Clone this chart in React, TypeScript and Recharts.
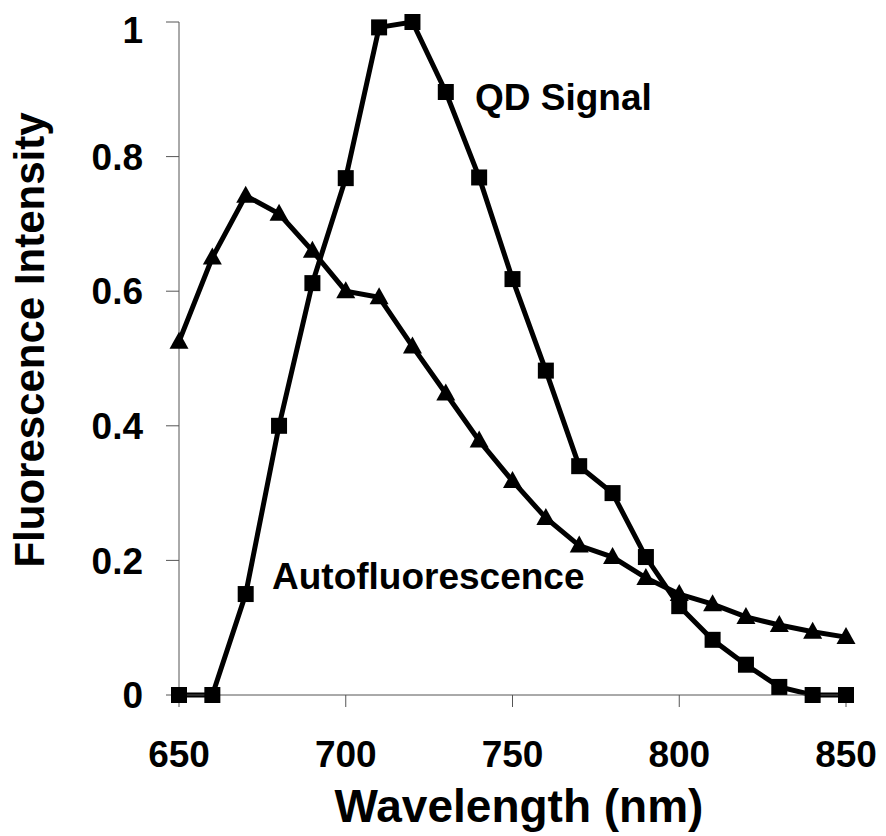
import React from 'react';
import { LineChart, Line, XAxis, YAxis } from 'recharts';

const wavelengths = [650, 660, 670, 680, 690, 700, 710, 720, 730, 740, 750, 760, 770, 780, 790, 800, 810, 820, 830, 840, 850];
const qdSignal = [0, 0, 0.15, 0.4, 0.612, 0.768, 0.992, 1.0, 0.896, 0.769, 0.618, 0.482, 0.34, 0.3, 0.205, 0.132, 0.082, 0.045, 0.012, 0, 0];
const autofluorescence = [0.525, 0.65, 0.742, 0.715, 0.66, 0.6, 0.591, 0.518, 0.448, 0.378, 0.318, 0.263, 0.222, 0.205, 0.174, 0.15, 0.135, 0.116, 0.104, 0.094, 0.086];
const xTicks = [650, 700, 750, 800, 850];
const yTicks = [0, 0.2, 0.4, 0.6, 0.8, 1];

const data = wavelengths.map((w, i) => ({ w, qd: qdSignal[i], auto: autofluorescence[i] }));

const FONT = '"Liberation Sans", Arial, Helvetica, sans-serif';

const Square = (props: any) => {
  const { cx, cy, index } = props;
  if (cx == null || cy == null) return <g key={index} />;
  return <rect key={index} x={cx - 8} y={cy - 8} width={16} height={16} fill="#000" />;
};

const Triangle = (props: any) => {
  const { cx, cy, index } = props;
  if (cx == null || cy == null) return <g key={index} />;
  const pts = `${cx},${cy - 10} ${cx - 9.5},${cy + 7} ${cx + 9.5},${cy + 7}`;
  return <polygon key={index} points={pts} fill="#000" />;
};

const tickStyle = { fontFamily: FONT, fontWeight: 700, fontSize: 37, fill: '#000' };

export default function App() {
  return (
    <div style={{ position: 'relative', width: 878, height: 828 }}>
      <LineChart width={878} height={828} data={data} margin={{ top: 14, right: 40, left: 0, bottom: 0 }}>
        <XAxis
          dataKey="w"
          type="number"
          domain={[650, 850]}
          ticks={xTicks}
          height={141}
          stroke="#555"
          tickSize={12}
          tickMargin={34}
          tick={tickStyle}
          tickLine={{ stroke: '#555' }}
          axisLine={{ stroke: '#555' }}
        />
        <YAxis
          type="number"
          domain={[0, 1]}
          ticks={yTicks}
          width={171}
          stroke="#555"
          tickSize={13}
          tickMargin={23}
          tick={tickStyle}
          tickLine={{ stroke: '#555' }}
          axisLine={{ stroke: '#555' }}
        />
        <Line dataKey="auto" type="linear" stroke="#000" strokeWidth={5} dot={<Triangle />} activeDot={false} isAnimationActive={false} />
        <Line dataKey="qd" type="linear" stroke="#000" strokeWidth={5} dot={<Square />} activeDot={false} isAnimationActive={false} />
      </LineChart>
      <svg width={886} height={836} style={{ position: 'absolute', left: -8, top: -8, pointerEvents: 'none' }}>
        <g fontFamily={FONT} fontWeight={700} fill="#000">
          <text x={475} y={110} fontSize={37}>QD Signal</text>
          <text x={272} y={589} fontSize={37}>Autofluorescence</text>
          <text x={519} y={822} fontSize={46} textAnchor="middle">Wavelength (nm)</text>
          <text x={44} y={340} fontSize={42} textAnchor="middle" transform="rotate(-90, 44, 340)">Fluorescence Intensity</text>
        </g>
      </svg>
    </div>
  );
}
